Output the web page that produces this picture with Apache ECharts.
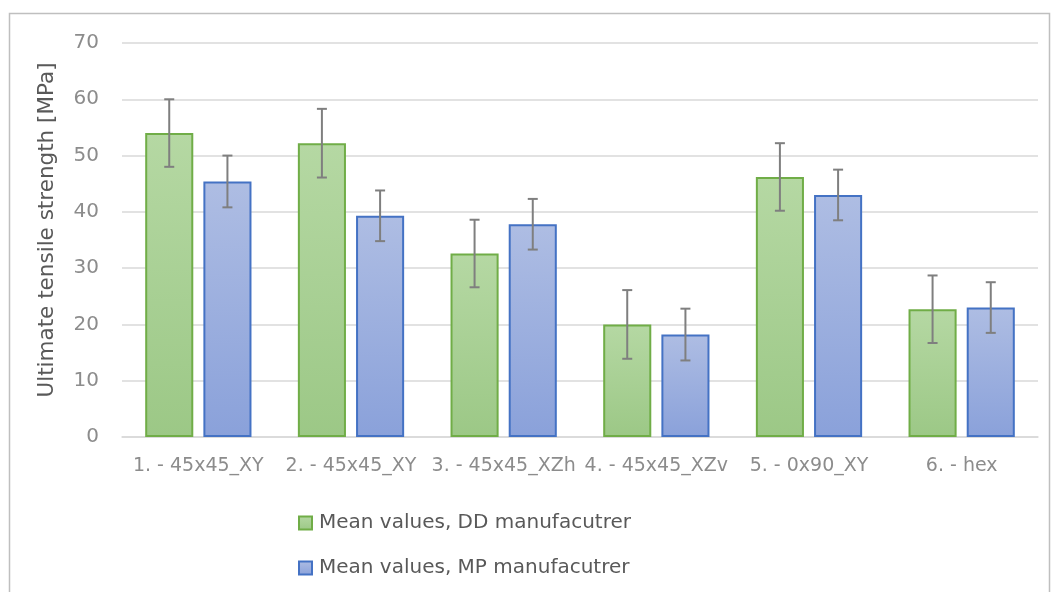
<!DOCTYPE html>
<html>
<head>
<meta charset="utf-8">
<script src="https://cdn.jsdelivr.net/npm/echarts@6/dist/echarts.min.js"></script>
<style>
  html, body { margin: 0; padding: 0; background: #fff; }
  #chart { width: 1058px; height: 592px; }
</style>
</head>
<body>
<div id="chart"></div>
<script>
// Specimen groups
const categories = ['1. - 45x45_XY', '2. - 45x45_XY', '3. - 45x45_XZh', '4. - 45x45_XZv', '5. - 0x90_XY', '6. - hex'];
// Mean ultimate tensile strength [MPa]
const ddMeans = [54.0, 52.2, 32.6, 20.0, 46.2, 22.7];
const mpMeans = [45.4, 39.3, 37.8, 18.2, 43.0, 23.0];
// Standard deviations (error bars)
const ddStd = [6.0, 6.1, 6.0, 6.1, 6.0, 6.0];
const mpStd = [4.6, 4.5, 4.5, 4.6, 4.5, 4.5];
const yTicks = { min: 0, max: 70, interval: 10 };
const legendNames = ['Mean values, DD manufacutrer', 'Mean values, MP manufacutrer'];

const FONT = 'DejaVu Sans';
const BAR_W = 0.315;  // bar width as fraction of category band
const BAR_GAP = 0.21; // gap between bars as fraction of bar width

const greenFill = new echarts.graphic.LinearGradient(0, 0, 0, 1, [
  { offset: 0, color: '#b5d8a3' }, { offset: 1, color: '#9cc886' }
]);
const blueFill = new echarts.graphic.LinearGradient(0, 0, 0, 1, [
  { offset: 0, color: '#aebde3' }, { offset: 1, color: '#8aa1da' }
]);

function errorSeries(means, stds, side) {
  return {
    type: 'custom',
    z: 5,
    silent: true,
    data: means.map((m, i) => [i, m - stds[i], m + stds[i]]),
    renderItem: function (params, api) {
      const band = api.size([1, 0])[0];
      const bw = band * BAR_W;
      const shift = side * (bw + bw * BAR_GAP) / 2;
      const lo = api.coord([api.value(0), api.value(1)]);
      const hi = api.coord([api.value(0), api.value(2)]);
      const x = lo[0] + shift;
      const cap = 5;
      const style = { stroke: '#7f7f7f', lineWidth: 2 };
      return {
        type: 'group',
        children: [
          { type: 'line', shape: { x1: x, y1: lo[1], x2: x, y2: hi[1] }, style },
          { type: 'line', shape: { x1: x - cap, y1: hi[1], x2: x + cap, y2: hi[1] }, style },
          { type: 'line', shape: { x1: x - cap, y1: lo[1], x2: x + cap, y2: lo[1] }, style }
        ]
      };
    }
  };
}

const chart = echarts.init(document.getElementById('chart'), null, { renderer: 'canvas' });
chart.setOption({
  animation: false,
  backgroundColor: '#ffffff',
  textStyle: { fontFamily: FONT },
  graphic: [{
    type: 'rect',
    shape: { x: 9.5, y: 13.5, width: 1040, height: 600 },
    style: { fill: 'none', stroke: '#bfbfbf', lineWidth: 1.5 },
    silent: true
  }],
  grid: { left: 122, right: 20, top: 43, bottom: 155 },
  legend: {
    orient: 'vertical',
    left: 293,
    top: 508,
    itemWidth: 13,
    itemHeight: 13,
    itemGap: 25,
    icon: 'rect',
    textStyle: { fontFamily: FONT, fontSize: 20, color: '#595959', padding: [0, 0, 0, 2] },
    data: legendNames
  },
  xAxis: {
    type: 'category',
    data: categories,
    axisLine: { lineStyle: { color: '#d9d9d9', width: 1.5 } },
    axisTick: { show: false },
    axisLabel: { fontFamily: FONT, fontSize: 19, color: '#8c8c8c', margin: 20, interval: 0 }
  },
  yAxis: {
    type: 'value',
    min: yTicks.min,
    max: yTicks.max,
    interval: yTicks.interval,
    name: 'Ultimate tensile strength [MPa]',
    nameLocation: 'middle',
    nameGap: 64,
    nameTextStyle: { fontFamily: FONT, fontSize: 21.5, color: '#595959', padding: [0, 0, 0, 20] },
    axisLine: { show: false },
    axisTick: { show: false },
    axisLabel: { fontFamily: FONT, fontSize: 20, color: '#8c8c8c', margin: 23 },
    splitLine: { lineStyle: { color: '#d9d9d9', width: 1.5 } }
  },
  series: [
    {
      name: legendNames[0],
      type: 'bar',
      data: ddMeans,
      barWidth: (BAR_W * 100) + '%',
      barGap: (BAR_GAP * 100) + '%',
      itemStyle: { color: greenFill, borderColor: '#70ad47', borderWidth: 2 }
    },
    {
      name: legendNames[1],
      type: 'bar',
      data: mpMeans,
      barWidth: (BAR_W * 100) + '%',
      barGap: (BAR_GAP * 100) + '%',
      itemStyle: { color: blueFill, borderColor: '#4472c4', borderWidth: 2 }
    },
    errorSeries(ddMeans, ddStd, -1),
    errorSeries(mpMeans, mpStd, 1)
  ]
});
</script>
</body>
</html>
